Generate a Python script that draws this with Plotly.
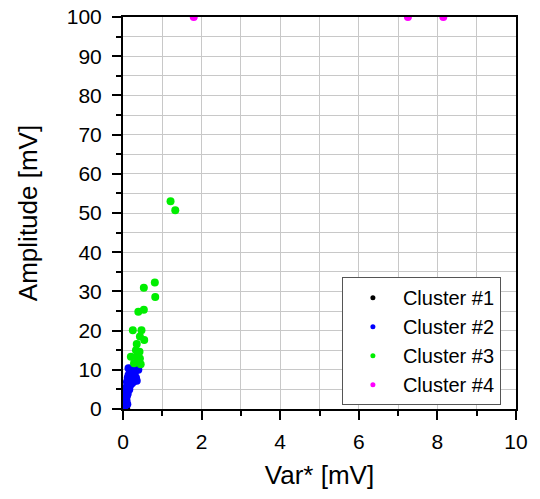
import plotly.graph_objects as go

# Cluster #1 (black) – tiny events at the origin
c1_var = [0.04, 0.06, 0.08, 0.05]
c1_amp = [0.3, 0.6, 0.2, 1.0]

# Cluster #2 (blue)
c2_var = [0.05, 0.07, 0.09, 0.06, 0.10, 0.12, 0.08, 0.11, 0.14, 0.09, 0.13, 0.16, 0.10,
          0.15, 0.18, 0.12, 0.20, 0.14, 0.22, 0.17, 0.25, 0.19, 0.28, 0.21, 0.30, 0.24,
          0.33, 0.35, 0.14, 0.18, 0.27, 0.39, 0.30, 0.11, 0.08, 0.16, 0.23]
c2_amp = [0.8, 1.5, 2.2, 2.8, 3.3, 3.9, 4.3, 4.8, 5.2, 5.6, 6.0, 6.4, 6.9, 7.2, 7.6,
          7.9, 8.2, 8.6, 8.9, 9.2, 9.5, 9.8, 10.0, 10.3, 10.1, 9.0, 8.0, 7.2, 10.4,
          6.0, 7.0, 10.0, 9.2, 1.2, 3.6, 5.0, 6.6]

# Cluster #3 (green)
c3_var = [0.81, 0.53, 0.82, 0.39, 0.53, 0.25, 0.47, 0.43, 0.54, 0.35, 0.33, 0.42,
          0.20, 0.35, 0.43, 0.28, 0.39, 0.45, 1.21, 1.33]
c3_amp = [32.3, 30.9, 28.6, 24.8, 25.3, 20.1, 20.1, 18.5, 17.6, 16.6, 15.0, 14.6,
          13.3, 13.3, 12.9, 11.7, 12.1, 11.4, 53.0, 50.7]

# Cluster #4 (magenta) – saturated at the amplitude limit
c4_var = [1.8, 7.25, 8.15]
c4_amp = [100, 100, 100]

x_ticks = [0, 2, 4, 6, 8, 10]
y_ticks = [0, 10, 20, 30, 40, 50, 60, 70, 80, 90, 100]

series = [
    ("Cluster #1", c1_var, c1_amp, "#000000"),
    ("Cluster #2", c2_var, c2_amp, "#0000ff"),
    ("Cluster #3", c3_var, c3_amp, "#00ee00"),
    ("Cluster #4", c4_var, c4_amp, "#ff00ff"),
]

fig = go.Figure()
for name, xs, ys, col in series:
    # data markers
    fig.add_trace(go.Scatter(
        x=xs, y=ys, mode="markers", name=name, showlegend=False,
        marker=dict(color=col, size=8, line=dict(width=0)),
        cliponaxis=True,
    ))
    # smaller symbol for the legend key
    fig.add_trace(go.Scatter(
        x=[None], y=[None], mode="markers", name=name,
        marker=dict(color=col, size=5, line=dict(width=0)),
    ))

font_family = "Liberation Sans, Arial, sans-serif"
grid_col = "#c8c8c8"
axis_common = dict(
    showline=True, linecolor="black", linewidth=2, mirror=True,
    ticks="outside", ticklen=9, tickwidth=1.5, tickcolor="black",
    showgrid=True, gridcolor=grid_col, gridwidth=1,
    zeroline=False, automargin=False,
    tickfont=dict(family=font_family, size=21, color="black"),
)
title_font = dict(family=font_family, size=26, color="black")

fig.update_xaxes(
    range=[0, 10], tickvals=x_ticks, ticklabelstandoff=4,
    title=dict(text="Var* [mV]", font=title_font, standoff=14),
    minor=dict(dtick=1, tick0=0, ticks="outside", ticklen=5, tickcolor="black",
               showgrid=True, gridcolor=grid_col, gridwidth=1),
    **axis_common,
)
fig.update_yaxes(
    range=[0, 100], tickvals=y_ticks, ticklabelstandoff=6,
    title=dict(text="Amplitude [mV]", font=title_font, standoff=22),
    minor=dict(dtick=5, tick0=0, ticks="outside", ticklen=5, tickcolor="black",
               showgrid=True, gridcolor=grid_col, gridwidth=1),
    **axis_common,
)

fig.update_layout(
    width=540, height=499,
    margin=dict(l=123, r=24, t=17, b=90),
    paper_bgcolor="white", plot_bgcolor="white",
    font=dict(family=font_family, color="black"),
    legend=dict(
        x=0.557, y=0.173, xanchor="left", yanchor="middle",
        bgcolor="white", bordercolor="#555555", borderwidth=1,
        font=dict(family=font_family, size=20, color="black"),
        itemsizing="trace", itemwidth=50, tracegroupgap=0,
    ),
    showlegend=True,
)

fig.write_html("out.html")
